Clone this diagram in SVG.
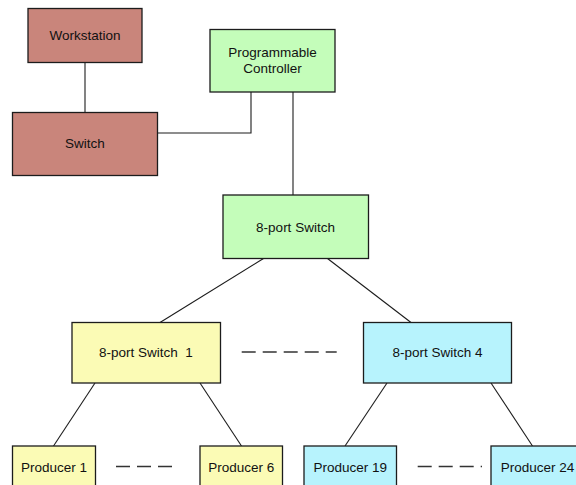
<svg xmlns="http://www.w3.org/2000/svg" width="576" height="485" viewBox="0 0 576 485">
  <style>
    .box { stroke: #1c1c1c; stroke-width: 1.3; }
    .brown { fill: #C9857B; }
    .green { fill: #C4FDBA; }
    .yellow { fill: #FBFBB5; }
    .cyan { fill: #B7F3FD; }
    .lbl { font-family: "Liberation Sans", Arial, sans-serif; font-size: 13.5px; fill: #111; text-anchor: middle; }
    .wire { stroke: #1c1c1c; stroke-width: 1.1; fill: none; }
    .dash { stroke: #333; stroke-width: 1.3; fill: none; stroke-dasharray: 14 7; }
  </style>

  <rect width="576" height="485" fill="#ffffff"/>

  <!-- connectors -->
  <g id="connectors">
    <line class="wire" x1="85" y1="62.5" x2="85" y2="112.5"/>
    <polyline class="wire" points="157.5,133 251,133 251,92"/>
    <line class="wire" x1="293" y1="92" x2="293" y2="195"/>
    <line class="wire" x1="263.5" y1="258.5" x2="160" y2="322.5"/>
    <line class="wire" x1="327.5" y1="258.5" x2="411" y2="322.5"/>
    <line class="wire" x1="95" y1="383" x2="53.5" y2="446"/>
    <line class="wire" x1="200" y1="383" x2="241.5" y2="446"/>
    <line class="wire" x1="387" y1="383" x2="345" y2="446"/>
    <line class="wire" x1="491" y1="383" x2="532.5" y2="446"/>
    <line class="dash" x1="241.7" y1="352" x2="336.7" y2="352"/>
    <line class="dash" x1="116" y1="466.5" x2="172" y2="466.5"/>
    <line class="dash" x1="417.7" y1="466.5" x2="482" y2="466.5"/>
  </g>

  <g id="workstation">
    <rect class="box brown" x="28" y="8.5" width="114" height="54"/>
    <text class="lbl" x="85" y="40">Workstation</text>
  </g>

  <g id="switch">
    <rect class="box brown" x="12.5" y="112.5" width="145" height="63"/>
    <text class="lbl" x="85" y="148">Switch</text>
  </g>

  <g id="controller">
    <rect class="box green" x="210" y="29.5" width="125" height="62.5"/>
    <text class="lbl" x="272.5" y="57">Programmable</text>
    <text class="lbl" x="272.5" y="73">Controller</text>
  </g>

  <g id="core-switch">
    <rect class="box green" x="223" y="195" width="145.5" height="63.5"/>
    <text class="lbl" x="295.5" y="231.5">8-port Switch</text>
  </g>

  <g id="switch-1">
    <rect class="box yellow" x="72" y="322.5" width="148.5" height="60.5"/>
    <text class="lbl" x="146" y="357" xml:space="preserve">8-port Switch  1</text>
  </g>

  <g id="switch-4">
    <rect class="box cyan" x="363.5" y="322.5" width="148" height="60.5"/>
    <text class="lbl" x="437.5" y="357">8-port Switch 4</text>
  </g>

  <g id="producer-1">
    <rect class="box yellow" x="12.5" y="446" width="83" height="45"/>
    <text class="lbl" x="54" y="471.5">Producer 1</text>
  </g>

  <g id="producer-6">
    <rect class="box yellow" x="200" y="446" width="82.5" height="45"/>
    <text class="lbl" x="241.3" y="471.5">Producer 6</text>
  </g>

  <g id="producer-19">
    <rect class="box cyan" x="304" y="446" width="92.5" height="45"/>
    <text class="lbl" x="350.3" y="471.5">Producer 19</text>
  </g>

  <g id="producer-24">
    <rect class="box cyan" x="491" y="446" width="93" height="45"/>
    <text class="lbl" x="537.5" y="471.5">Producer 24</text>
  </g>
</svg>
